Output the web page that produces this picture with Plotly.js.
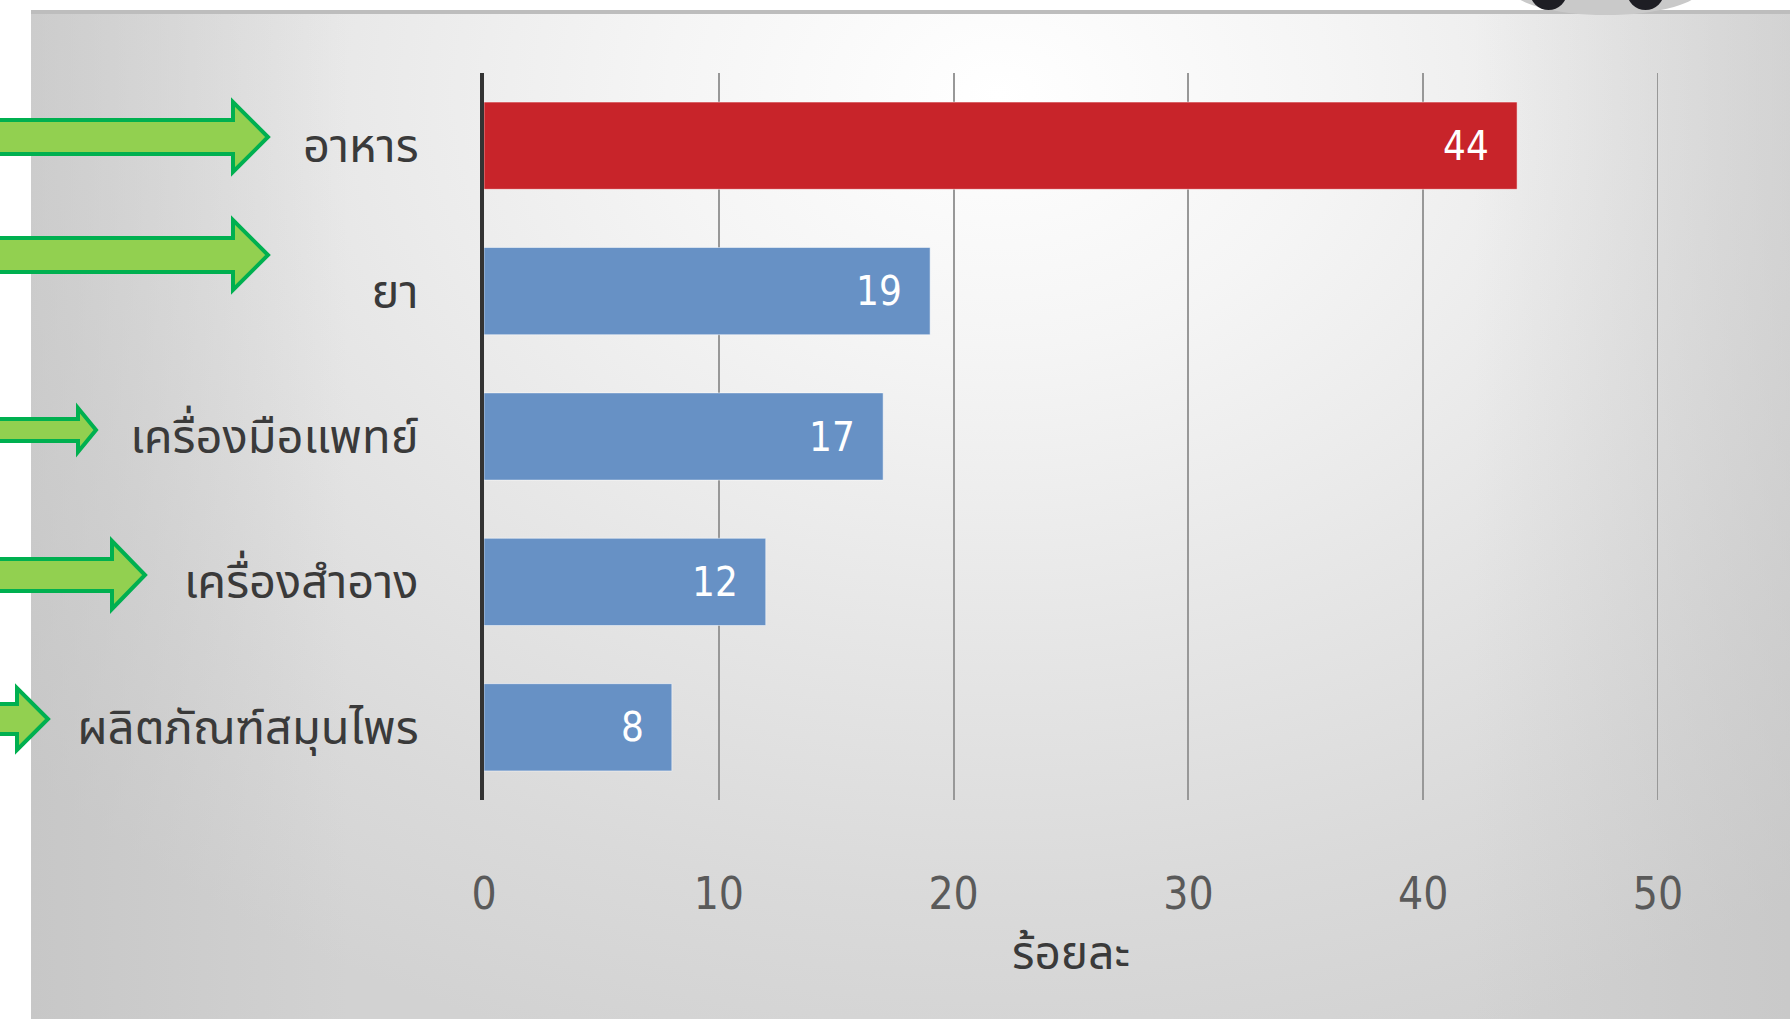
<!DOCTYPE html>
<html>
<head>
<meta charset="utf-8">
<script src="https://cdn.plot.ly/plotly-3.0.1.min.js"></script>
<style>
  html, body { margin:0; padding:0; background:#ffffff; }
  #wrap { position:relative; width:1790px; height:1019px; overflow:hidden; background:#ffffff; }
  #panel { position:absolute; left:31px; top:10px; right:0; bottom:0;
    border-top:4px solid #bdbdbd;
    background:
      linear-gradient(to right, rgba(190,190,190,0.55) 0%, rgba(190,190,190,0) 18%, rgba(190,190,190,0) 82%, rgba(190,190,190,0.45) 100%),
      radial-gradient(ellipse 75% 100% at 55% 8%, #ffffff 0%, #f5f5f5 25%, #e6e6e6 55%, #dadada 80%, #d2d2d2 100%);
  }
  #chart { position:absolute; left:0; top:0; width:1790px; height:1019px; }
</style>
</head>
<body>
<div id="wrap">
  <div id="panel"></div>
  <div id="chart"></div>
</div>
<script>
// ---- data ----
const categories = ["อาหาร", "ยา", "เครื่องมือแพทย์", "เครื่องสำอาง", "ผลิตภัณฑ์สมุนไพร"];
const values = [44, 19, 17, 12, 8];
const barColors = ["#c8242a", "#6791c5", "#6791c5", "#6791c5", "#6791c5"];
const xTicks = [0, 10, 20, 30, 40, 50];
const xTitle = "ร้อยละ";

// ---- layout geometry (pixels) ----
const W = 1790, H = 1019;
const plotLeft = 484, plotRight = 1658, plotTop = 73, plotBottom = 800;
const GRID = "#989898";

const THAI = "'Noto Sans Thai', 'Noto Sans Thai UI', 'Leelawadee UI', Tahoma, 'Noto Sans', sans-serif";
const NUM = "'DejaVu Sans Condensed', 'Liberation Sans Narrow', 'Roboto Condensed', 'Noto Sans', sans-serif";

function P(x, y) { return (x / W).toFixed(5) + "," + (1 - y / H).toFixed(5); }
function arrowPath(x0, tip, headBase, cy, bodyHalf, headHalf) {
  return "M" + P(x0, cy - bodyHalf) + " L" + P(headBase, cy - bodyHalf) + " L" + P(headBase, cy - headHalf) +
         " L" + P(tip, cy) + " L" + P(headBase, cy + headHalf) + " L" + P(headBase, cy + bodyHalf) +
         " L" + P(x0, cy + bodyHalf) + " Z";
}
// decorative arrows: [tipX, headBaseX, centerY, bodyHalf, headHalf]
const arrows = [
  [268, 233, 137, 17, 35],
  [268, 233, 255, 17, 35],
  [96, 78, 430, 11, 22],
  [145, 112, 575, 16, 34],
  [48, 17, 719, 15, 31]
];
const shapes = arrows.map(a => ({
  type: "path", xref: "paper", yref: "paper",
  path: arrowPath(-10, a[0], a[1], a[2], a[3], a[4]),
  fillcolor: "#92d050", line: { color: "#00b050", width: 4 }, layer: "above"
}));
// gridline at the last tick (Plotly hides the one on the plot edge)
const lastTick = xTicks[xTicks.length - 1];
shapes.push({ type: "line", xref: "x", yref: "paper",
  x0: lastTick, x1: lastTick, y0: 1 - plotBottom / H, y1: 1 - plotTop / H,
  line: { color: GRID, width: 2 }, layer: "below" });
// top-right decoration
shapes.push({ type: "circle", xref: "paper", yref: "paper",
  x0: 1510 / W, x1: 1702 / W, y0: 1 - 15 / H, y1: 1 + 40 / H,
  fillcolor: "#c9c9c9", line: { width: 0 }, layer: "above" });
shapes.push({ type: "circle", xref: "paper", yref: "paper",
  x0: 1530 / W, x1: 1567 / W, y0: 1 - 10 / H, y1: 1 + 26 / H,
  fillcolor: "#1e1e24", line: { width: 0 }, layer: "above" });
shapes.push({ type: "circle", xref: "paper", yref: "paper",
  x0: 1627 / W, x1: 1664 / W, y0: 1 - 10 / H, y1: 1 + 26 / H,
  fillcolor: "#1e1e24", line: { width: 0 }, layer: "above" });

// value labels inside bar ends
const annotations = values.map((v, i) => ({
  x: v, y: categories[i], xref: "x", yref: "y",
  text: String(v), showarrow: false, xanchor: "right", yanchor: "middle", xshift: -26,
  font: { family: NUM, size: 40, color: "#ffffff" }
}));

const trace = {
  type: "bar", orientation: "h",
  x: values, y: categories,
  marker: { color: barColors, line: { color: "rgba(255,255,255,0.5)", width: 1 } },
  hoverinfo: "skip"
};

const layout = {
  width: W, height: H,
  margin: { l: 0, r: 0, t: 0, b: 0, pad: 0 },
  paper_bgcolor: "rgba(0,0,0,0)", plot_bgcolor: "rgba(0,0,0,0)",
  showlegend: false,
  bargap: 0.4,
  xaxis: {
    domain: [plotLeft / W, plotRight / W],
    range: [0, 50], tickvals: xTicks, ticktext: xTicks.map(String),
    showgrid: true, gridcolor: GRID, gridwidth: 2,
    zeroline: false, showline: false, ticks: "",
    ticklabelstandoff: 64,
    tickfont: { family: NUM, size: 44, color: "#5a5a5a" },
    title: { text: xTitle, standoff: 18, font: { family: THAI, size: 46, color: "#3a3a3a" } },
    fixedrange: true
  },
  yaxis: {
    domain: [1 - plotBottom / H, 1 - plotTop / H],
    autorange: "reversed", type: "category",
    showgrid: false, zeroline: false,
    showline: true, linecolor: "#333333", linewidth: 4,
    ticks: "", ticklabelstandoff: 52,
    tickfont: { family: THAI, size: 47, color: "#3a3a3a" },
    fixedrange: true
  },
  shapes: shapes,
  annotations: annotations
};

Plotly.newPlot("chart", [trace], layout, { displayModeBar: false, staticPlot: true });
</script>
</body>
</html>
